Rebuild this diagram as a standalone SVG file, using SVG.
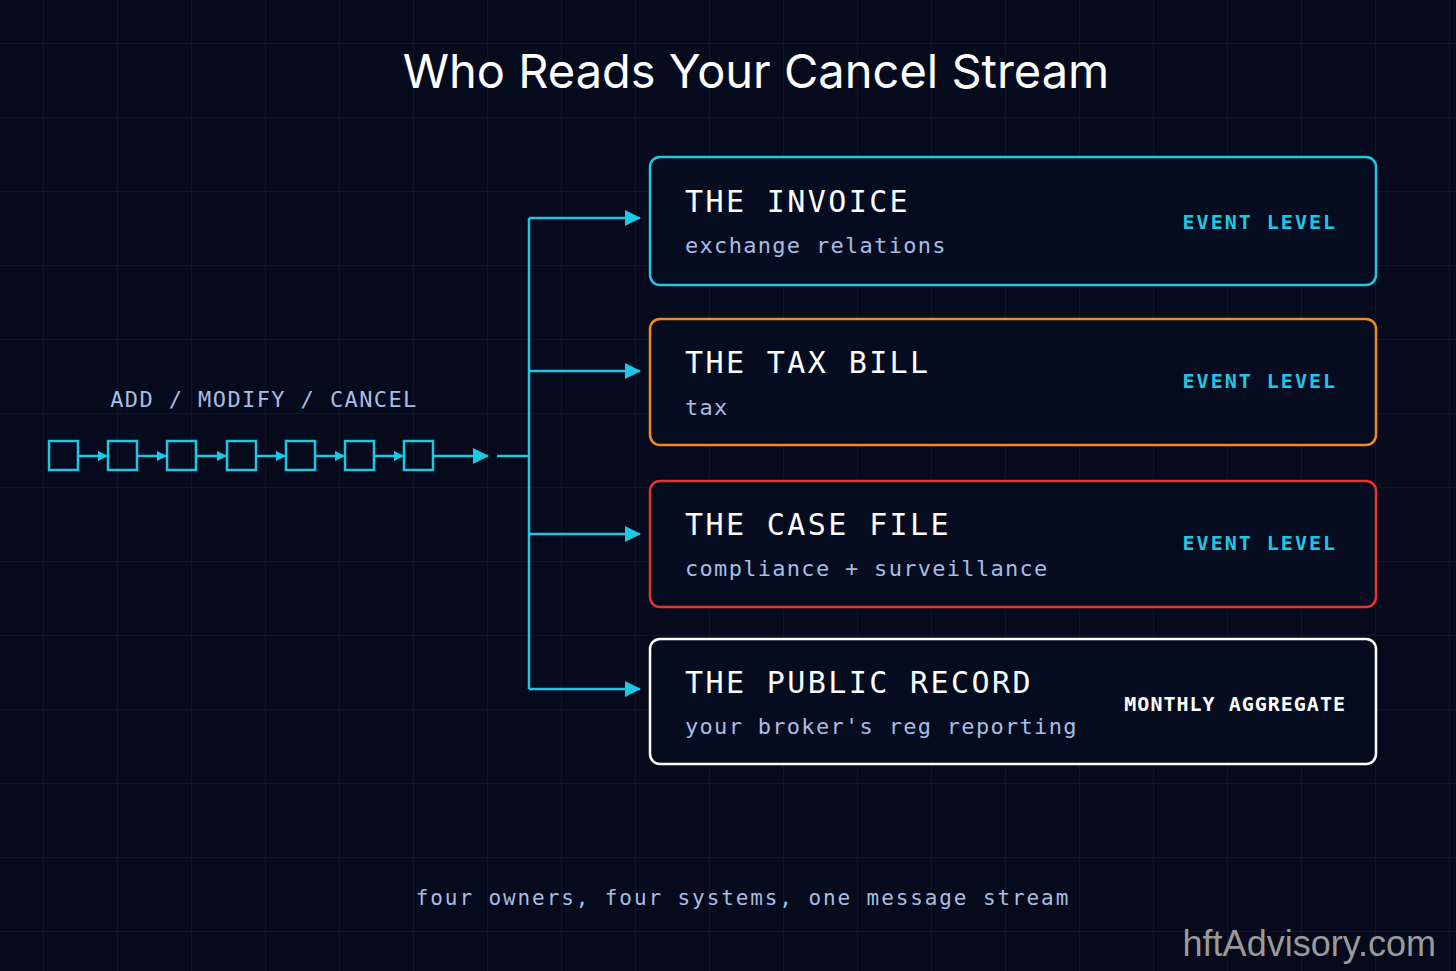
<svg xmlns="http://www.w3.org/2000/svg" width="1456" height="971" viewBox="0 0 1456 971">
<defs>
<pattern id="grid" width="74" height="74" patternUnits="userSpaceOnUse" x="-30" y="-30"><path d="M74 0V74H0" fill="none" stroke="#16203a" stroke-width="1"/></pattern>
<marker id="ah" markerWidth="10" markerHeight="10" refX="9" refY="5" orient="auto" markerUnits="userSpaceOnUse"><path d="M0 0L10 5L0 10Z" fill="#1ec8e4"/></marker>
<marker id="ab" markerWidth="16" markerHeight="16" refX="15" refY="8" orient="auto" markerUnits="userSpaceOnUse"><path d="M0 0L16 8L0 16Z" fill="#1ec8e4"/></marker>
<style>
.t{font-family:"DejaVu Sans Mono",monospace;font-size:30px;fill:#fff;letter-spacing:2.4px}
.s{font-family:"DejaVu Sans Mono",monospace;font-size:22px;fill:#a9bde0;letter-spacing:1.3px}
.l{font-family:"DejaVu Sans Mono",monospace;font-size:20px;font-weight:bold;fill:#1ec8e4;letter-spacing:2px;text-anchor:end}
.box{fill:#060c20;stroke-width:2.5}
.c{stroke:#1ec8e4;stroke-width:2.5;fill:none}
.q{fill:none;stroke:#1ec8e4;stroke-width:2.5}
</style>
</defs>
<rect width="1456" height="971" fill="#050a1c"/>
<rect width="1456" height="971" fill="url(#grid)"/>
<text x="756" y="88" text-anchor="middle" font-family="Inter, 'Liberation Sans', sans-serif" font-size="47" fill="#fff">Who Reads Your Cancel Stream</text>
<g id="stream">
<text x="264" y="407" text-anchor="middle" font-family="'DejaVu Sans Mono',monospace" font-size="22" fill="#a9bde0" letter-spacing="1.4">ADD / MODIFY / CANCEL</text>
<rect class="q" x="49" y="441" width="29" height="29"/>
<rect class="q" x="108" y="441" width="29" height="29"/>
<rect class="q" x="167" y="441" width="29" height="29"/>
<rect class="q" x="227" y="441" width="29" height="29"/>
<rect class="q" x="286" y="441" width="29" height="29"/>
<rect class="q" x="345" y="441" width="29" height="29"/>
<rect class="q" x="404" y="441" width="29" height="29"/>
</g>
<g id="connectors">
<path class="c" d="M78 456H107" marker-end="url(#ah)"/>
<path class="c" d="M137 456H166" marker-end="url(#ah)"/>
<path class="c" d="M196 456H226" marker-end="url(#ah)"/>
<path class="c" d="M256 456H285" marker-end="url(#ah)"/>
<path class="c" d="M315 456H344" marker-end="url(#ah)"/>
<path class="c" d="M374 456H403" marker-end="url(#ah)"/>
<path class="c" d="M433 456H488" marker-end="url(#ab)"/>
<path class="c" d="M497 456H529M529 218V689"/>
<path class="c" d="M529 218H640" marker-end="url(#ab)"/>
<path class="c" d="M529 371H640" marker-end="url(#ab)"/>
<path class="c" d="M529 534H640" marker-end="url(#ab)"/>
<path class="c" d="M529 689H640" marker-end="url(#ab)"/>
</g>
<g id="invoice"><rect class="box" x="650" y="157" width="726" height="128" rx="10" stroke="#1ec8e4"/>
<text class="t" x="685" y="212">THE INVOICE</text><text class="s" x="685" y="253">exchange relations</text><text class="l" x="1337" y="229">EVENT LEVEL</text></g>
<g id="tax"><rect class="box" x="650" y="319" width="726" height="126" rx="10" stroke="#f08a1c"/>
<text class="t" x="685" y="373">THE TAX BILL</text><text class="s" x="685" y="415">tax</text><text class="l" x="1337" y="388">EVENT LEVEL</text></g>
<g id="case"><rect class="box" x="650" y="481" width="726" height="126" rx="10" stroke="#e8332e"/>
<text class="t" x="685" y="535">THE CASE FILE</text><text class="s" x="685" y="576">compliance + surveillance</text><text class="l" x="1337" y="550">EVENT LEVEL</text></g>
<g id="public"><rect class="box" x="650" y="639" width="726" height="125" rx="10" stroke="#ffffff"/>
<text class="t" x="685" y="693">THE PUBLIC RECORD</text><text class="s" x="685" y="734">your broker's reg reporting</text><text class="l" x="1346" y="711" style="fill:#fff;letter-spacing:1px">MONTHLY AGGREGATE</text></g>
<text x="743" y="905" text-anchor="middle" font-family="'DejaVu Sans Mono',monospace" font-size="21" fill="#a9bde0" letter-spacing="1.9">four owners, four systems, one message stream</text>
<text x="1436" y="956" text-anchor="end" font-family="'Liberation Sans',Arial,sans-serif" font-size="36" fill="#9a9a9a">hftAdvisory.com</text>
</svg>
